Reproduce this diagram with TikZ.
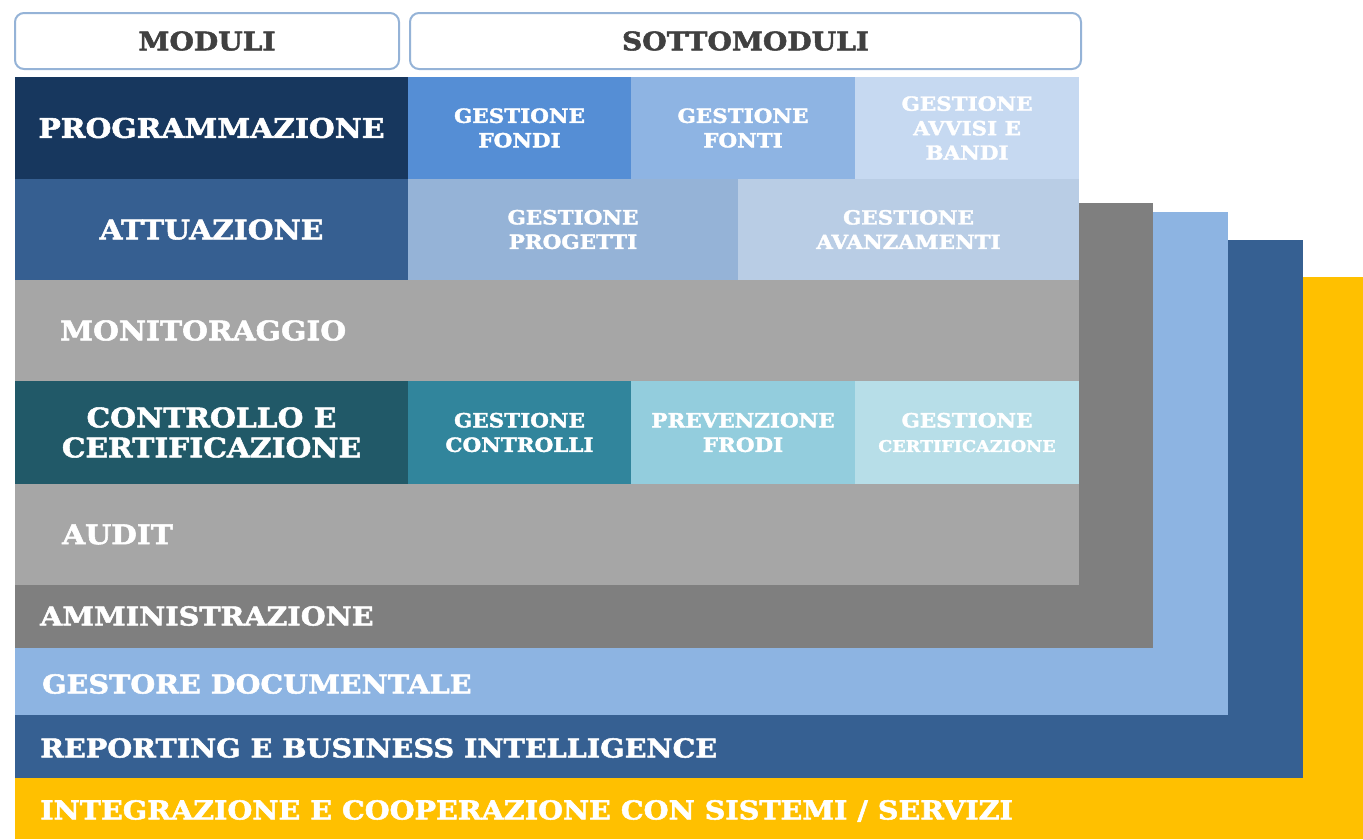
\documentclass[tikz,border=0pt]{standalone}
\usepackage{fontspec}
\setmainfont{DejaVu Serif}
\newfontfamily\slabfont[FakeStretch=1.1,FakeBold=2]{DejaVu Serif Bold}
\usetikzlibrary{positioning}
\definecolor{navy}{HTML}{17375E}
\definecolor{fondi}{HTML}{558ED5}
\definecolor{fonti}{HTML}{8EB4E3}
\definecolor{avvisi}{HTML}{C6D9F1}
\definecolor{attu}{HTML}{365F91}
\definecolor{progetti}{HTML}{95B3D7}
\definecolor{avanz}{HTML}{B9CDE5}
\definecolor{lgray}{HTML}{A6A6A6}
\definecolor{dgray}{HTML}{7F7F7F}
\definecolor{teal}{HTML}{215968}
\definecolor{controlli}{HTML}{31859C}
\definecolor{frodi}{HTML}{93CDDD}
\definecolor{cert}{HTML}{B7DEE8}
\definecolor{gestore}{HTML}{8DB4E2}
\definecolor{report}{HTML}{366092}
\definecolor{gold}{HTML}{FFC000}
\definecolor{headline}{HTML}{95B3D7}
\definecolor{headtext}{HTML}{404040}
\tikzstyle{cell}=[rectangle,inner sep=0pt,outer sep=0pt,anchor=north west,align=center,text=white]
\tikzstyle{bigtext}=[font=\slabfont\fontsize{27}{30}\selectfont]
\tikzstyle{subtext}=[font=\slabfont\fontsize{19.5}{24.5}\selectfont]
\tikzstyle{layertext}=[text=white,anchor=west,inner sep=0pt,font=\slabfont\fontsize{26}{30}\selectfont]
\tikzstyle{headbox}=[rectangle,rounded corners=9pt,draw=headline,line width=2pt,fill=white,anchor=north west,inner sep=0pt,text=headtext,font=\slabfont\fontsize{25.5}{28}\selectfont]

\begin{document}
\begin{tikzpicture}[x=1pt,y=-1pt]
    \useasboundingbox (0,0) rectangle (1363,839);
    % First the layers behind, from the outside in
    \foreach \pos/\w/\h/\name/\col in {{(15,277)/1348/562/integ/gold},
    {(15,240)/1288/538/report/report}, {(15,212)/1213/503/gestore/gestore},
    {(15,203)/1138/445/ammin/dgray}}
        \node[cell, fill=\col, minimum width=\w pt, minimum height=\h pt] (\name) at \pos {};

    % Then the module rows and their submodules
    \foreach \pos/\w/\h/\name/\col/\label in {{(15,77)/393/102/prog/navy/PROGRAMMAZIONE},
    {(15,179)/393/101/attu/attu/ATTUAZIONE},
    {(15,280)/1064/101/monit/lgray/},
    {(15,381)/393/103/contr/teal/{CONTROLLO E\\CERTIFICAZIONE}},
    {(15,484)/1064/101/audit/lgray/}}
        \node[cell, bigtext, fill=\col, minimum width=\w pt, minimum height=\h pt] (\name) at \pos {\label};

    \foreach \pos/\w/\h/\name/\col/\label in {{(408,77)/223/102/fondi/fondi/{GESTIONE\\FONDI}},
    {(631,77)/224/102/fonti/fonti/{GESTIONE\\FONTI}},
    {(855,77)/224/102/avvisi/avvisi/{GESTIONE\\AVVISI E\\BANDI}},
    {(408,179)/330/101/progetti/progetti/{GESTIONE\\PROGETTI}},
    {(738,179)/341/101/avanz/avanz/{GESTIONE\\AVANZAMENTI}},
    {(408,381)/223/103/gcontr/controlli/{GESTIONE\\CONTROLLI}},
    {(631,381)/224/103/frodi/frodi/{PREVENZIONE\\FRODI}},
    {(855,381)/224/103/gcert/cert/{GESTIONE\\{\fontsize{16}{22}\selectfont CERTIFICAZIONE}}}}
        \node[cell, subtext, fill=\col, minimum width=\w pt, minimum height=\h pt] (\name) at \pos {\label};

    % Headers
    \node[headbox, minimum width=384pt, minimum height=56pt] (moduli) at (14,12) {MODULI};
    \node[headbox, minimum width=671pt, minimum height=56pt] (sotto) at (409,12) {SOTTOMODULI};

    % Labels of the wide bands
    \node[layertext, bigtext, right=45pt of monit.west] (tmonit) {MONITORAGGIO};
    \node[layertext, bigtext, right=47pt of audit.west] (taudit) {AUDIT};
    \foreach \pos/\name/\label in {{(40,616)/tammin/AMMINISTRAZIONE}, {(42,684)/tgestore/GESTORE DOCUMENTALE},
    {(40,748)/treport/REPORTING E BUSINESS INTELLIGENCE},
    {(40,811)/tinteg/{INTEGRAZIONE E COOPERAZIONE CON SISTEMI / SERVIZI}}}
        \node[layertext] (\name) at \pos {\label};
\end{tikzpicture}
\end{document}
